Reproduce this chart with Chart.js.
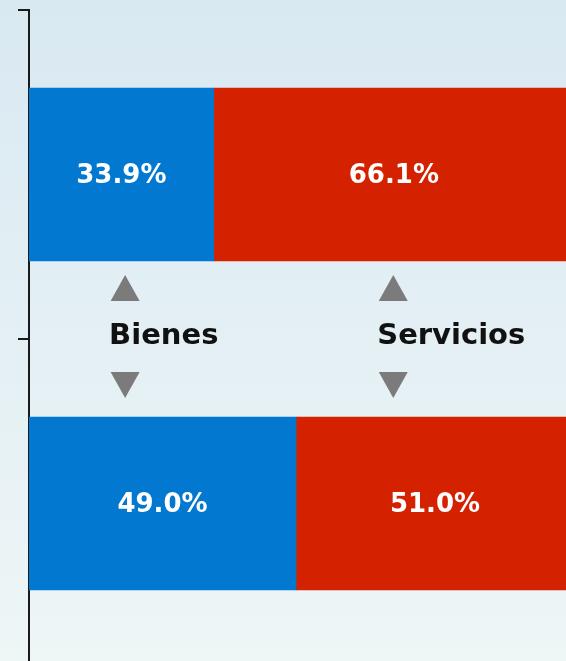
<!DOCTYPE html>
<html>
<head>
<meta charset="utf-8">
<script src="https://cdn.jsdelivr.net/npm/chart.js@4.4.1/dist/chart.umd.min.js"></script>
<style>
    html, body { margin: 0; padding: 0; }
    body {
        width: 566px;
        height: 661px;
        overflow: hidden;
        background: linear-gradient(#d9e9f2, #eef6f6);
    }
    /* le graphique depasse un peu a droite et en bas, comme dans l'original */
    #canvasGrafico { position: absolute; left: 0; top: 0; }
</style>
</head>
<body>
<canvas id="canvasGrafico" width="574" height="668"></canvas>
<script>
// donnees du graphique
const categorias = ["1", "2"]
const bienes = [33.9, 49.0]
const servicios = [66.1, 51.0]

// etiquetas entre las barras
const etiquetas = ["Bienes", "Servicios"]
const etiquetasX = [14.7, 63.9]

const valoresPlugin = {
    id: "valores",
    afterDatasetsDraw(chart) {
        const ctx = chart.ctx
        ctx.save()
        ctx.fillStyle = "#ffffff"
        ctx.font = "bold 26px 'DejaVu Sans'"
        ctx.textAlign = "center"
        ctx.textBaseline = "middle"
        chart.data.datasets.forEach((ds, i) => {
            chart.getDatasetMeta(i).data.forEach((bar, j) => {
                const p = bar.getCenterPoint()
                ctx.fillText(ds.data[j].toFixed(1) + "%", p.x, p.y + 2)
            })
        })
        ctx.restore()
    }
}

const etiquetasPlugin = {
    id: "etiquetas",
    afterDatasetsDraw(chart) {
        const ctx = chart.ctx
        const xs = chart.scales.x
        const ys = chart.scales.y
        // milieu entre les deux categories
        const yMid = (ys.getPixelForValue(0) + ys.getPixelForValue(1)) / 2 - 3
        ctx.save()
        for (let i = 0; i < etiquetas.length; i++) {
            const x = xs.getPixelForValue(etiquetasX[i])
            ctx.fillStyle = "#111111"
            ctx.font = "bold 29px 'DejaVu Sans'"
            ctx.textAlign = "left"
            ctx.textBaseline = "middle"
            ctx.fillText(etiquetas[i], x, yMid)

            // fleches
            const cx = x + 16
            ctx.fillStyle = "#7b7b7b"
            ctx.beginPath()
            ctx.moveTo(cx, yMid - 61)
            ctx.lineTo(cx + 14.5, yMid - 35)
            ctx.lineTo(cx - 14.5, yMid - 35)
            ctx.closePath()
            ctx.fill()
            ctx.beginPath()
            ctx.moveTo(cx - 14.5, yMid + 36)
            ctx.lineTo(cx + 14.5, yMid + 36)
            ctx.lineTo(cx, yMid + 62)
            ctx.closePath()
            ctx.fill()
        }
        ctx.restore()
    }
}

new Chart(document.getElementById("canvasGrafico"), {
    type: "bar",
    data: {
        labels: categorias,
        datasets: [
            {
                label: "Bienes",
                data: bienes,
                backgroundColor: "#0378d1",
                barThickness: 173,
                borderWidth: 0
            },
            {
                label: "Servicios",
                data: servicios,
                backgroundColor: "#d42100",
                barThickness: 173,
                borderWidth: 0
            }
        ]
    },
    options: {
        indexAxis: "y",
        responsive: false,
        animation: false,
        layout: { padding: { top: 10, left: 18, right: 0, bottom: 0 } },
        plugins: {
            legend: { display: false },
            tooltip: { enabled: false }
        },
        scales: {
            x: { stacked: true, min: 0, max: 100, display: false },
            y: {
                stacked: true,
                border: { display: true, color: "#1a1a1a", width: 2 },
                grid: {
                    offset: true,
                    drawOnChartArea: false,
                    drawTicks: true,
                    tickLength: 11,
                    color: "#1a1a1a",
                    lineWidth: 2
                },
                ticks: { display: false }
            }
        }
    },
    plugins: [valoresPlugin, etiquetasPlugin]
})
</script>
</body>
</html>
